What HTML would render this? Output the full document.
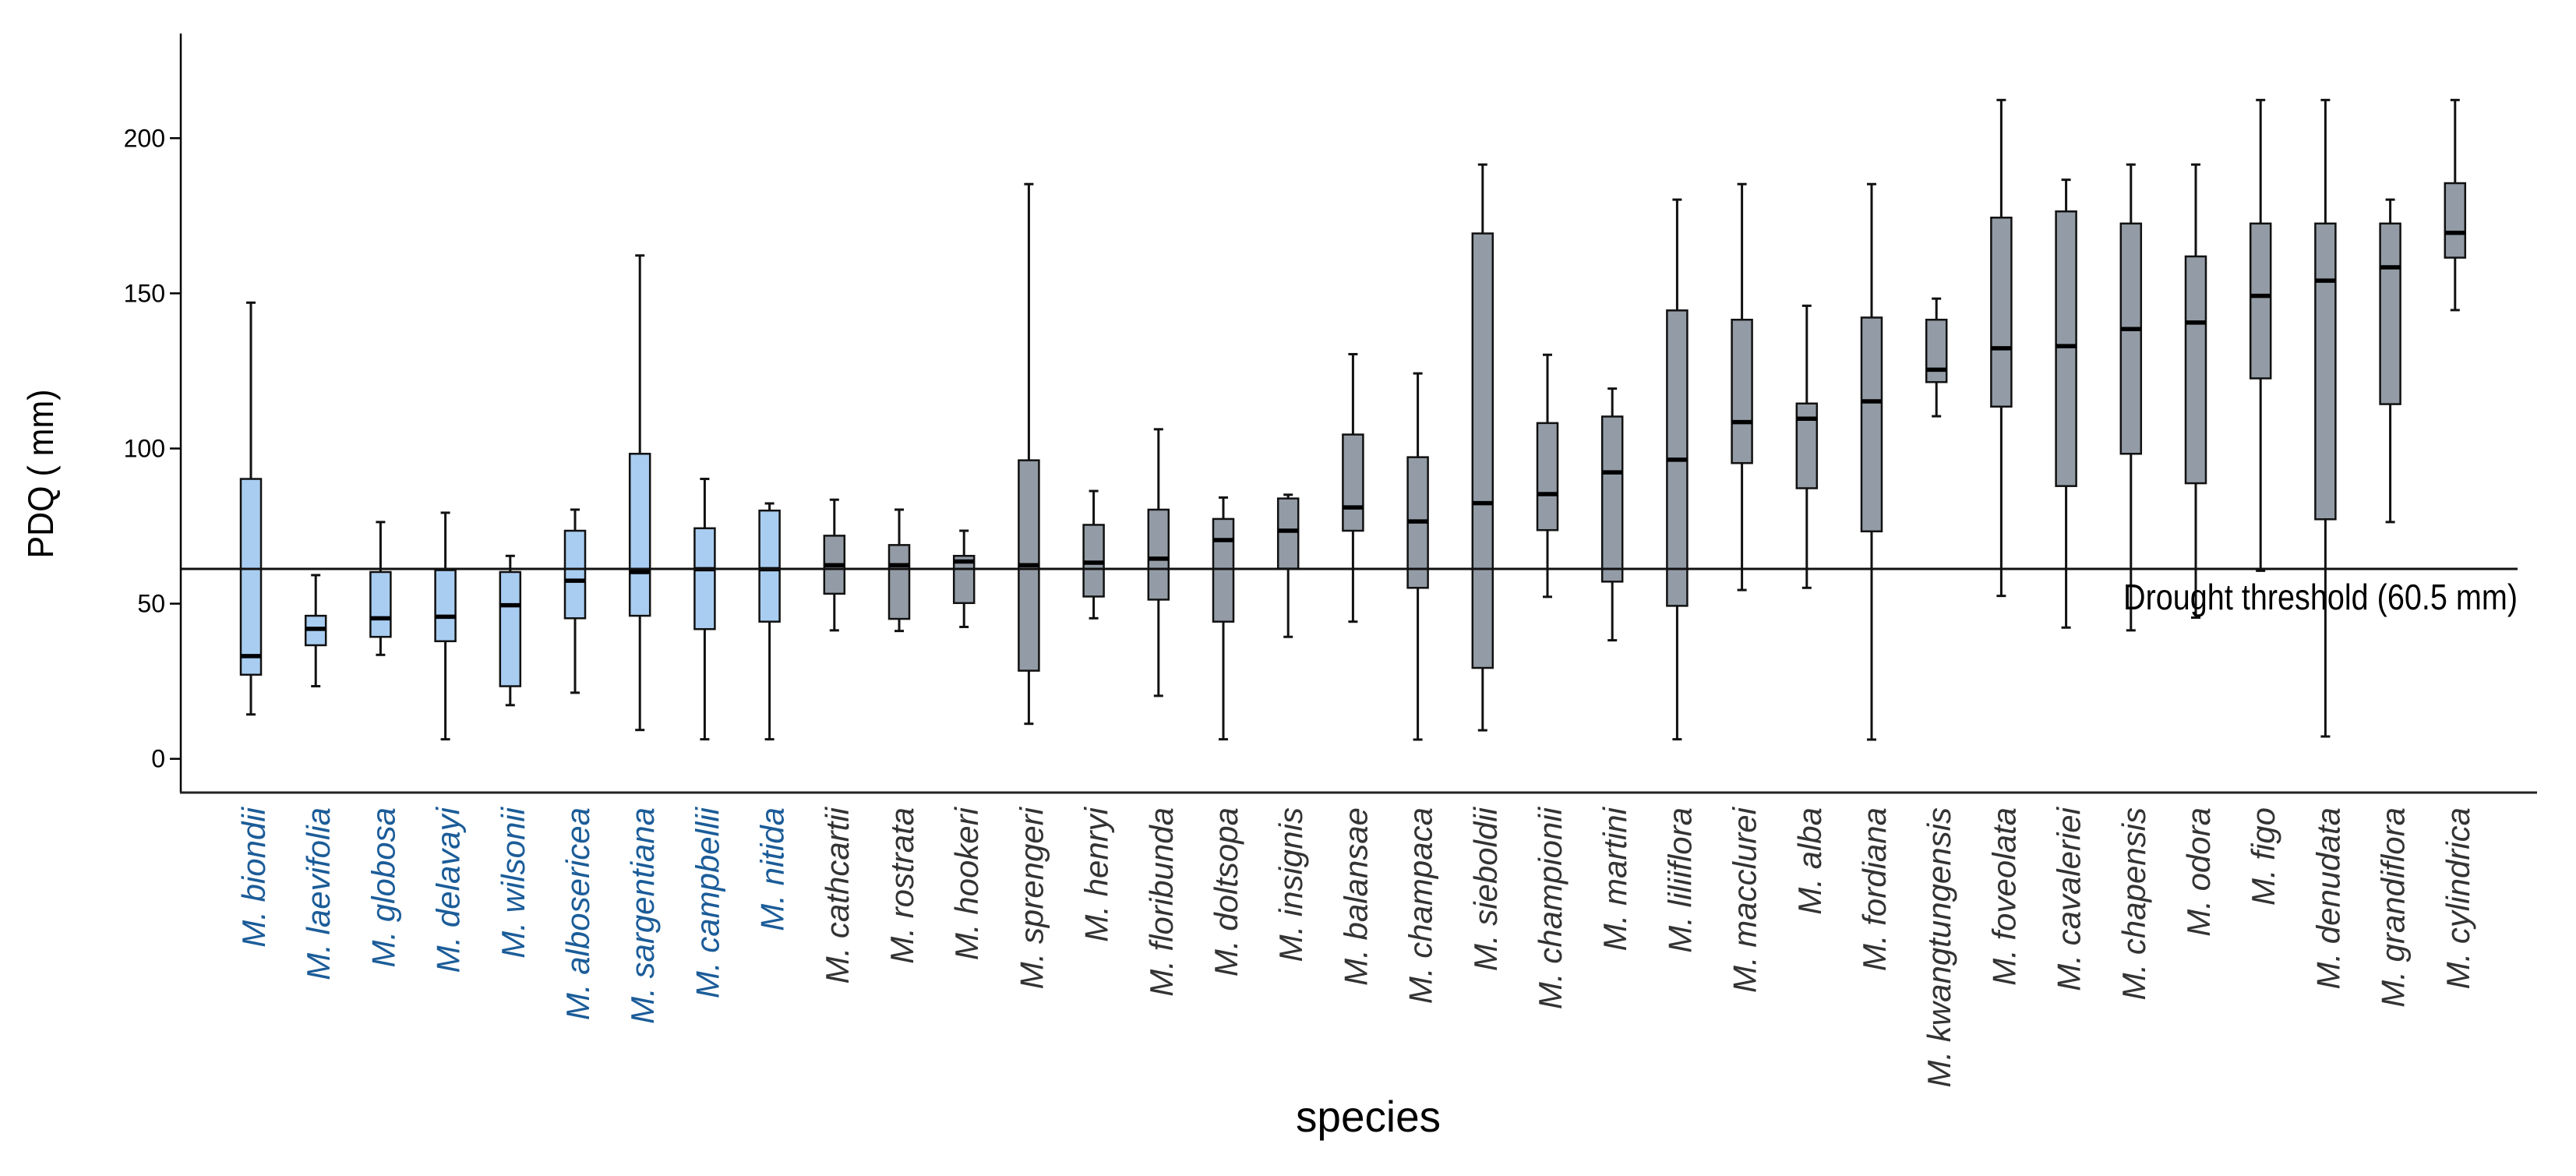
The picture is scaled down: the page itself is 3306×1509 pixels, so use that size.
<!DOCTYPE html>
<html><head><meta charset="utf-8"><style>
html,body{margin:0;padding:0;background:#fff;}
svg{display:block;}
</style></head><body>
<svg id="chart" width="3306" height="1509" viewBox="0 0 3306 1509" xmlns="http://www.w3.org/2000/svg" font-family="Liberation Sans, Arial, sans-serif">
  <g id="marks"></g>
  <line x1="232" y1="43" x2="232" y2="1017" stroke="#000" stroke-width="2.5"/>
  <line x1="231" y1="1017" x2="3256" y2="1017" stroke="#222" stroke-width="3"/>
  <g id="yticks"></g>
  <g id="xlabels"></g>
  <text x="68" y="608" transform="rotate(-90 68 608)" text-anchor="middle" font-size="46" textLength="217" lengthAdjust="spacingAndGlyphs" fill="#000">PDQ ( mm)</text>
  <text x="1756" y="1452" text-anchor="middle" font-size="56" textLength="186" lengthAdjust="spacingAndGlyphs" fill="#000">species</text>
</svg>
<script>
const species = ["M. biondii","M. laevifolia","M. globosa","M. delavayi","M. wilsonii","M. albosericea","M. sargentiana","M. campbellii","M. nitida","M. cathcartii","M. rostrata","M. hookeri","M. sprengeri","M. henryi","M. floribunda","M. doltsopa","M. insignis","M. balansae","M. champaca","M. sieboldii","M. championii","M. martini","M. liliiflora","M. macclurei","M. alba","M. fordiana","M. kwangtungensis","M. foveolata","M. cavaleriei","M. chapensis","M. odora","M. figo","M. denudata","M. grandiflora","M. cylindrica"];
const groups = ["blue","blue","blue","blue","blue","blue","blue","blue","blue","gray","gray","gray","gray","gray","gray","gray","gray","gray","gray","gray","gray","gray","gray","gray","gray","gray","gray","gray","gray","gray","gray","gray","gray","gray","gray"];
const whiskerLow = [14.3,23.4,33.5,6.3,17.3,21.3,9.3,6.3,6.3,41.4,41.2,42.5,11.3,45.3,20.3,6.3,39.3,44.2,6.2,9.2,52.2,38.2,6.3,54.4,55.1,6.2,110.4,52.5,42.3,41.4,45.5,60.6,7.2,76.3,144.6];
const q1 = [27.1,36.6,39.3,37.9,23.4,45.3,46.1,41.8,44.2,53.2,45.1,50.2,28.4,52.3,51.3,44.2,61.3,73.5,55.1,29.3,73.7,57.1,49.3,95.3,87.2,73.3,121.4,113.5,87.9,98.3,88.8,122.6,77.2,114.3,161.5];
const medians = [33.1,41.9,45.3,45.8,49.5,57.4,60.2,61.1,61.1,62.4,62.4,63.6,62.4,63.2,64.5,70.5,73.5,81,76.5,82.4,85.3,92.3,96.4,108.5,109.6,115.2,125.4,132.3,133,138.5,140.6,149.2,154.1,158.4,169.5];
const q3 = [90.2,46.1,60.2,60.8,60.2,73.5,98.3,74.3,80,71.9,68.9,65.4,96.2,75.4,80.3,77.3,83.9,104.5,97.2,169.3,108.2,110.3,144.5,141.5,114.5,142.2,141.5,174.4,176.4,172.5,161.9,172.5,172.5,172.5,185.5];
const whiskerHigh = [147,59.2,76.3,79.3,65.4,80.3,162.2,90.2,82.3,83.5,80.3,73.5,185.2,86.3,106.2,84.2,85.1,130.4,124.2,191.5,130.2,119.3,180.2,185.2,146,185.2,148.3,212.3,186.6,191.5,191.5,212.3,212.3,180.2,212.3];
const yTicks = [0,50,100,150,200];
const threshold = 61.2;
const thresholdLabel = "Drought threshold (60.5 mm)";

const NS = "http://www.w3.org/2000/svg";
function yScale(v){ return 973.7 - v * 3.982; }
function xScale(i){ return 322 + i * 83.2; }
function mk(tag, attrs, parent){ const e = document.createElementNS(NS, tag); for (const k in attrs) e.setAttribute(k, attrs[k]); parent.appendChild(e); return e; }

const marks = document.getElementById('marks');
const bw = 26, cw = 12;
species.forEach((s, i) => {
  const cx = xScale(i);
  const fill = groups[i] === 'blue' ? '#a9cdf1' : '#939ca6';
  const g = mk('g', {}, marks);
  
  
  const w1 = mk('line', {x1:cx, x2:cx, y1:yScale(whiskerHigh[i]), y2:yScale(q3[i]), stroke:'#111', 'stroke-width':3}, g);
  
  
  const w2 = mk('line', {x1:cx, x2:cx, y1:yScale(q1[i]), y2:yScale(whiskerLow[i]), stroke:'#111', 'stroke-width':3}, g);
  
  
  const c1 = mk('line', {x1:cx-cw/2, x2:cx+cw/2, y1:yScale(whiskerHigh[i]), y2:yScale(whiskerHigh[i]), stroke:'#111', 'stroke-width':3}, g);
  
  
  const c2 = mk('line', {x1:cx-cw/2, x2:cx+cw/2, y1:yScale(whiskerLow[i]), y2:yScale(whiskerLow[i]), stroke:'#111', 'stroke-width':3}, g);
  
  
  const r = mk('rect', {x:cx-bw/2, y:yScale(q3[i]), width:bw, height:yScale(q1[i])-yScale(q3[i]), fill:fill, stroke:'#111', 'stroke-width':2.5}, g);
  
  
  const m = mk('line', {x1:cx-bw/2, x2:cx+bw/2, y1:yScale(medians[i]), y2:yScale(medians[i]), stroke:'#000', 'stroke-width':5.5}, g);
  
  

  const lx = cx + 18, ly = 1036;
  const t = mk('text', {x:lx, y:ly, transform:'rotate(-90 '+lx+' '+ly+')', 'text-anchor':'end', 'font-size':42, 'font-style':'italic', fill: groups[i]==='blue' ? '#1b5c98' : '#333'}, document.getElementById('xlabels'));
  
  
  t.textContent = s;
});

const th = mk('line', {x1:232, x2:3231, y1:yScale(threshold), y2:yScale(threshold), stroke:'#111', 'stroke-width':3}, document.getElementById('chart'));


const tl = mk('text', {x:3231, y:yScale(threshold)+52, 'text-anchor':'end', 'font-size':46, textLength:506, lengthAdjust:'spacingAndGlyphs', fill:'#000'}, document.getElementById('chart'));


tl.textContent = thresholdLabel;

const yt = document.getElementById('yticks');
yTicks.forEach(v => {
  const y = yScale(v);
  const l = mk('line', {x1:218, x2:232, y1:y, y2:y, stroke:'#000', 'stroke-width':2.5}, yt);
  
  
  const t = mk('text', {x:212, y:y+11, 'text-anchor':'end', 'font-size':32, fill:'#000'}, yt);
  
  
  t.textContent = v;
});
</script>
</body></html>
